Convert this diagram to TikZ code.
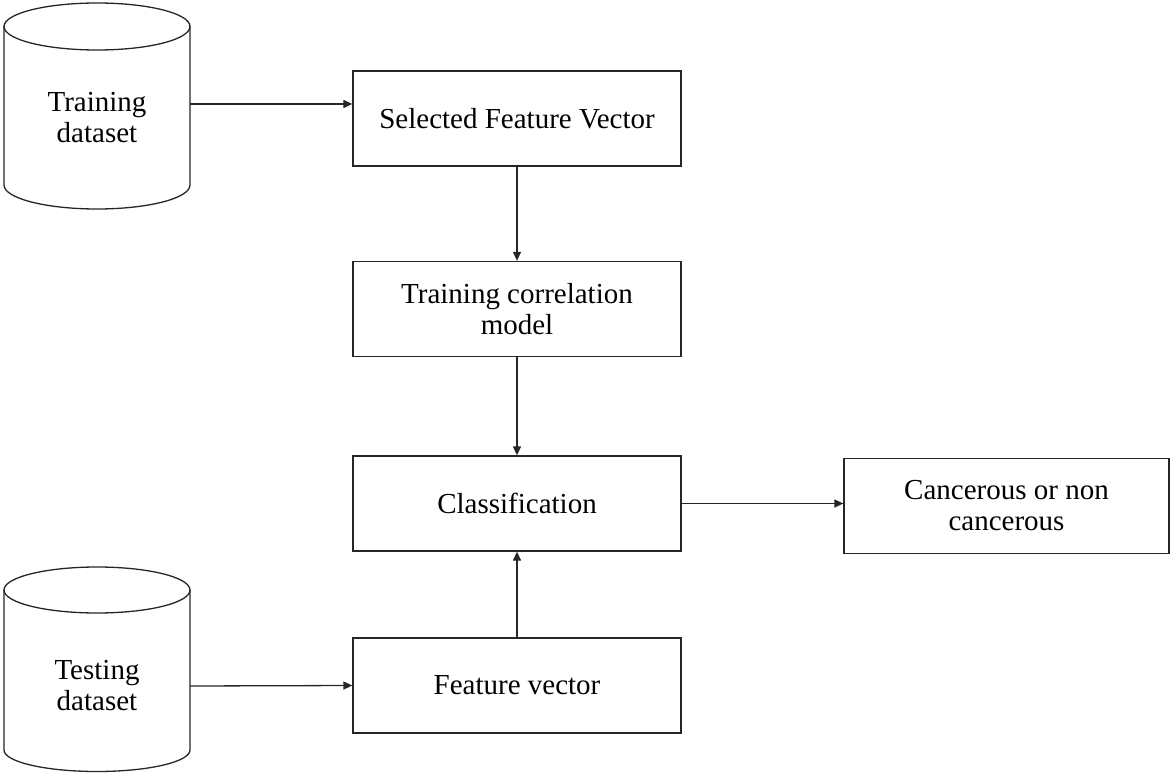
\documentclass[tikz,border=0pt]{standalone}
\usepackage{fontspec}
\setmainfont{Liberation Serif}
\usetikzlibrary{arrows.meta}
\begin{document}
\begin{tikzpicture}[x=1pt,y=-1pt,
  line/.style={draw=black!85, line width=1.3pt},
  procbox/.style={line, rectangle, minimum width=328pt, minimum height=95pt,
    inner sep=0pt, align=center, font=\fontsize{29}{31}\selectfont},
  dbtext/.style={rectangle, minimum width=186pt, minimum height=150pt,
    inner sep=0pt, align=center, font=\fontsize{29}{31}\selectfont},
  arr/.style={line, -{Triangle[length=9pt,width=8pt]}}]
\useasboundingbox (0,0) rectangle (1171,773);

% database cylinders
\draw[line] (4,26.5) -- (4,185) arc[start angle=180,end angle=0,x radius=93,y radius=24] -- (190,26.5);
\draw[line] (97,26.5) ellipse [x radius=93, y radius=23.5];
\draw[line] (4,590) -- (4,750) arc[start angle=180,end angle=0,x radius=93,y radius=21.5] -- (190,590);
\draw[line] (97,590) ellipse [x radius=93, y radius=23];

\node[dbtext] (train) at (97,118) {Training\\dataset};
\node[dbtext] (test) at (97,686) {Testing\\dataset};
\coordinate (trainout) at (190,104);

% processing steps
\node[procbox] (sel) at (517,118.5) {Selected Feature Vector};
\node[procbox] (corr) at (517,309) {Training correlation\\model};
\node[procbox] (cls) at (517,503.5) {Classification};
\node[procbox] (fv) at (517,685.5) {Feature vector};
\node[procbox, minimum width=325pt] (out) at (1006.5,506) {Cancerous or non\\cancerous};

% connectors
\draw[arr] (trainout) -- (trainout -| sel.west);
\draw[arr] (sel.south) -- (corr.north);
\draw[arr] (corr.south) -- (cls.north);
\draw[arr] (fv.north) -- (cls.south);
\draw[arr] (test.east) -- (fv.west);
\draw[arr] (cls.east) -- (cls.east -| out.west);
\end{tikzpicture}
\end{document}
